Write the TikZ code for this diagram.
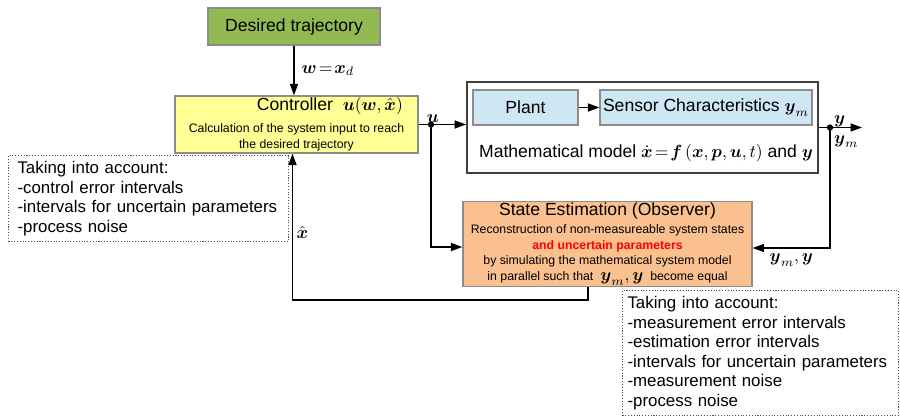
\documentclass[tikz,border=0pt]{standalone}
\usepackage{amsmath}
\usepackage{fontspec}
\setmainfont{Liberation Sans}
\usepackage{tikz}
\usetikzlibrary{arrows.meta, calc, positioning}
\definecolor{trajgreen}{RGB}{146,186,82}
\definecolor{ctrlyellow}{RGB}{255,255,150}
\definecolor{plantblue}{RGB}{207,230,244}
\definecolor{obsorange}{RGB}{250,192,144}
\definecolor{boxgray}{RGB}{140,140,140}
\newcommand{\bigtext}{\fontsize{10}{11}\selectfont}
\newcommand{\smalltext}{\fontsize{7}{8.2}\selectfont}
\newcommand{\notetext}{\fontsize{9.6}{11.1}\selectfont}
\newcommand{\bv}[1]{\boldsymbol{#1}}
\tikzset{%
  every path/.style={line width=0.8pt},
    flow/.style={%
        ->,
        >={Triangle[length=6.5pt, width=4.6pt]},
    },
    block/.style={%
        rectangle,
        draw=boxgray,
        font=\bigtext,
        text centered,
        inner sep=1pt,
    },
    target/.style={%
        block,
        fill=trajgreen,
        minimum width=3.44cm,
        minimum height=0.74cm,
    },
    controller/.style={%
        block,
        fill=ctrlyellow,
        align=center,
        minimum width=4.86cm,
        minimum height=1.06cm,
    },
    model/.style={%
        rectangle,
        draw=black!75, line width=1.1pt,
        fill=white,
        minimum width=7.02cm,
        minimum height=1.82cm,
    },
    inner/.style={%
        block,
        fill=plantblue,
        minimum height=0.7cm,
    },
    observer/.style={%
        block,
        fill=obsorange,
        align=center,
        minimum width=5.78cm,
        minimum height=1.56cm,
    },
    note/.style={%
        rectangle,
        draw=black!70, densely dotted, line width=0.6pt,
        font=\notetext,
        align=left,
        anchor=north west,
    },
    sig/.style={%
        font=\bigtext,
        inner sep=1pt,
    },
}

\begin{document}
\begin{tikzpicture}[x=0.02cm, y=-0.02cm]
	% \draw[help lines] (0, 0) grid [step=50] (900, 416);
	\useasboundingbox (0, 0) rectangle (900, 416);
	\coordinate (u_dot) at (431, 124.5);
	\coordinate (y_dot) at (830, 127.5);
	\coordinate (y_end) at (862, 127.5);
	\coordinate (xhat_turn) at (588, 300);

	\node [target] at (294, 26.5) (desired) {Desired trajectory};
	\node [controller] at (296.5, 124.5) (ctrl) {\hspace*{38pt}Controller\ \ $\bv{u}(\bv{w},\hat{\bv{x}})$\\[1.5pt]
		{\smalltext Calculation of the system input to reach}\\[-2pt]
		{\smalltext the desired trajectory}};

	\node [model] at (642.5, 127.5) (plant_model) {};
	\node [inner, minimum width=2.1cm] at (525.5, 107.5) (plant) {Plant};
	\node [inner, minimum width=4.24cm] at (706, 107.5) (sensor) {Sensor Characteristics $\bv{y}_{m}$};
	\node [sig] at (646, 153) (model_eq) {Mathematical model $\dot{\bv{x}}\!=\!\bv{f}\,(\bv{x},\bv{p},\bv{u},t)$ and $\bv{y}$};

	\node [observer] at (607.5, 244) (observer) {State Estimation (Observer)\\[-1pt]
		{\smalltext Reconstruction of non-measureable system states}\\[-2pt]
		{\smalltext\bfseries\color{red} and uncertain parameters}\\[-2pt]
		{\smalltext by simulating the mathematical system model}\\[-2pt]
		{\smalltext in parallel such that \ {\bigtext$\bv{y}_{m},\bv{y}$}\ \ become equal}};

	\node [note, inner xsep=0.18cm, text width=5.24cm, minimum height=1.72cm] at (8, 155) (note_ctrl) {Taking into account:\\
		-control error intervals\\
		-intervals for uncertain parameters\\
		-process noise};
	\node [note, inner xsep=0.1cm, text width=5.32cm, minimum height=2.5cm] at (622, 290) (note_obs) {Taking into account:\\
		-measurement error intervals\\
		-estimation error intervals\\
		-intervals for uncertain parameters\\
		-measurement noise\\
		-process noise};

	\draw[flow] (desired.south) -- (desired.south |- ctrl.north) node [sig, midway, right=3pt] (w_label) {$\bv{w}\!=\!\bv{x}_{d}$};
	\draw[flow] (ctrl.east) -- (ctrl.east -| plant_model.west) node [sig, pos=0.3, above] (u_label) {$\bv{u}$};
	\draw[flow] (plant) -- (sensor);
	\draw[flow] (y_dot -| plant_model.east) -- (y_end);
	\node [sig, above right=-1pt and 1pt] at (y_dot) (y_label) {$\bv{y}$};
	\node [sig, below right=3pt and 1pt] at (y_dot) (ym_label) {$\bv{y}_{m}$};

	\draw[flow] (u_dot) |- ($(observer.west)+(0, 3)$);
	\draw[flow] (y_dot) |- ($(observer.east)+(0, 4)$) node [sig, pos=0.75, below=2pt] (yy_label) {$\bv{y}_{m},\bv{y}$};
	\draw[flow] (observer.south -| xhat_turn) -- (xhat_turn) -| ($(ctrl.south)+(-4, 0)$) node [sig, pos=0.73, right=1pt] (xhat_label) {$\hat{\bv{x}}$};

	\fill (u_dot) circle (1.8pt);
	\fill (y_dot) circle (1.8pt);
\end{tikzpicture}
\end{document}
